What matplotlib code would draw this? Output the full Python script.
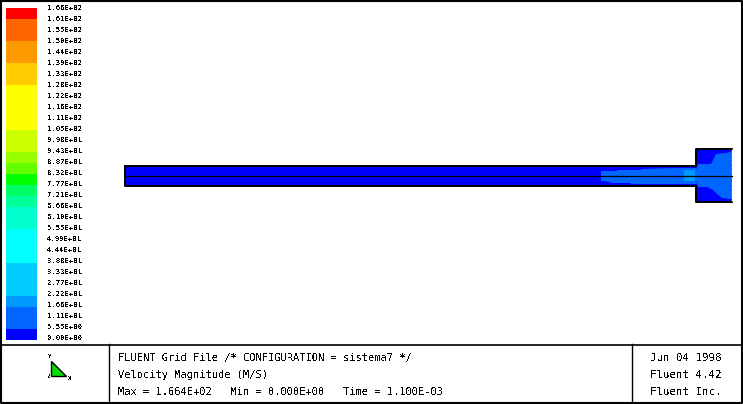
import numpy as np
import matplotlib
matplotlib.use("Agg")
import matplotlib.pyplot as plt
from matplotlib.colors import ListedColormap
from matplotlib.patches import Polygon

W, H = 743, 404

# colour scale, top to bottom
scale_labels = ["1.66E+02", "1.61E+02", "1.55E+02", "1.50E+02", "1.44E+02", "1.39E+02",
                "1.33E+02", "1.28E+02", "1.22E+02", "1.16E+02", "1.11E+02", "1.05E+02",
                "9.98E+01", "9.43E+01", "8.87E+01", "8.32E+01", "7.77E+01", "7.21E+01",
                "6.66E+01", "6.10E+01", "5.55E+01", "4.99E+01", "4.44E+01", "3.88E+01",
                "3.33E+01", "2.77E+01", "2.22E+01", "1.66E+01", "1.11E+01", "5.55E+00",
                "0.00E+00"]
band_colors = ["#ff0000", "#ff6600", "#ff6600", "#ff9900", "#ff9900", "#ffcc00", "#ffcc00",
               "#ffff00", "#ffff00", "#ffff00", "#ffff00", "#ccff00", "#ccff00", "#99ff00",
               "#66ff00", "#00ff00", "#00ff66", "#00ff99", "#00ffcc", "#00ffcc",
               "#00ffff", "#00ffff", "#00ffff", "#00ccff", "#00ccff", "#00ccff",
               "#0099ff", "#0066ff", "#0066ff", "#0000ff"]

# duct outline (domain units, same scale both ways)
wall_x = [125, 696, 696, 732, 732, 696, 696, 125, 125]
wall_y = [166, 166, 149, 149, 202, 202, 186, 186, 166]
axis_y = 176

# contour zones
zone_mid_x = [601, 617, 617, 641, 641, 672, 696, 696, 684, 661, 661, 631, 631, 611, 611, 601]
zone_mid_y = [171, 171, 170, 170, 169, 168, 168, 184, 184, 184, 184, 184, 183, 183, 182, 181]
zone_throat_x = [684, 695, 695, 684]
zone_throat_y = [170, 170, 181, 181]
zone_head_x = [695, 696, 698, 711, 713, 716, 727, 732, 732, 730, 722, 716, 713, 707, 698, 696, 695]
zone_head_y = [170, 170, 164, 164, 160, 154, 153, 151, 199, 199, 198, 193, 190, 187, 187, 182, 182]

fig = plt.figure(figsize=(W / 100, H / 100), dpi=100)
plt.rcParams["font.family"] = "DejaVu Sans Mono"
plt.rcParams["text.antialiased"] = False


def px_axes(x0, y0, x1, y1):
    return fig.add_axes([x0 / W, 1 - y1 / H, (x1 - x0) / W, (y1 - y0) / H])


# whole-figure frame and title block lines
bg = px_axes(0, 0, W, H)
bg.set_xlim(0, W)
bg.set_ylim(H, 0)
bg.axis("off")
bg.plot([0.5, 741.5, 741.5, 0.5, 0.5], [0.5, 0.5, 403, 403, 0.5], color="k", lw=1.5)
bg.plot([0, 742], [344.5, 344.5], color="k", lw=1.2)
bg.plot([109.3, 109.3], [344, 403], color="k", lw=1.0)
bg.plot([632.3, 632.3], [344, 403], color="k", lw=1.0)

# colour bar
n = len(band_colors)
cb = px_axes(6, 8, 37, 340)
levels = np.arange(n).reshape(-1, 1)
cb.imshow(levels, cmap=ListedColormap(band_colors), aspect="auto", interpolation="nearest",
          extent=[0, 1, n, 0])
cb.axis("off")
cb.set_ylim(n, 0)
for i, lab in enumerate(scale_labels):
    bg.text(47, 8 + i * 330 / 30, lab, fontsize=5.2, va="center", ha="left")

# the duct
bg.add_patch(Polygon(np.column_stack([wall_x, wall_y]), fc="#0000ff", ec="none"))
bg.add_patch(Polygon(np.column_stack([zone_head_x, zone_head_y]), fc="#0066ff", ec="none"))
bg.add_patch(Polygon(np.column_stack([zone_mid_x, zone_mid_y]), fc="#0066ff", ec="none"))
bg.add_patch(Polygon(np.column_stack([zone_throat_x, zone_throat_y]), fc="#0099ff", ec="none"))
bg.plot(wall_x[:4], wall_y[:4], color="k", lw=1.4)
bg.plot(wall_x[4:], wall_y[4:], color="k", lw=1.4)
bg.plot([wall_x[3], wall_x[4]], [wall_y[3], wall_y[4]], color="w", lw=1, ls=(0, (1.5, 1.5)))
bg.plot([125, 732], [axis_y, axis_y], color="k", lw=0.9)

# axis triad
bg.add_patch(Polygon([(51, 361), (51, 376), (66, 376)], fc="#00e000", ec="k", lw=1))
bg.text(50, 357, "Y", fontsize=4.5, ha="center", va="center")
bg.text(49, 377, "Z", fontsize=4.5, ha="center", va="center")
bg.text(70, 378, "X", fontsize=4.5, ha="center", va="center")

# title block
bg.text(118, 358, "FLUENT Grid File /* CONFIGURATION = sistema7 */", fontsize=7.5, va="center")
bg.text(118, 375, "Velocity Magnitude (M/S)", fontsize=7.5, va="center")
bg.text(118, 392, "Max = 1.664E+02   Min = 0.000E+00   Time = 1.100E-03", fontsize=7.5, va="center")
bg.text(686, 358, "Jun 04 1998", fontsize=7.8, va="center", ha="center")
bg.text(686, 375, "Fluent 4.42", fontsize=7.8, va="center", ha="center")
bg.text(686, 392, "Fluent Inc.", fontsize=7.8, va="center", ha="center")

fig.savefig("out.png", dpi=100)
